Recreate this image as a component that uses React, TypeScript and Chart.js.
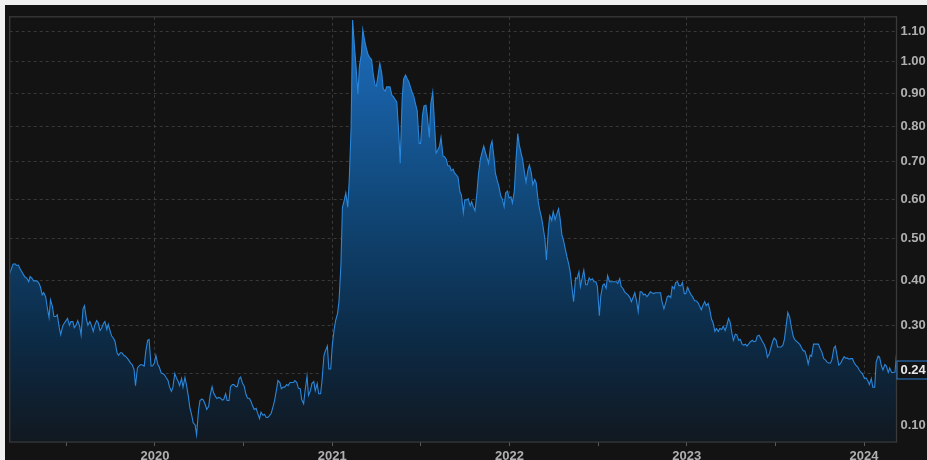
import React, { useEffect, useRef } from 'react';
import { Chart, LinearScale, registerables } from 'chart.js';

Chart.register(...registerables);

// ---------- data: twice-weekly closes (Friday, then Tuesday) ----------
const firstClose = '2019-03-08';
const prices2019 = [
  0.416, 0.429, 0.438, 0.439, 0.435, 0.436, 0.428, 0.420, 0.414, 0.407,
  0.406, 0.397, 0.409, 0.405, 0.399, 0.399, 0.399, 0.394, 0.386, 0.367,
  0.372, 0.363, 0.341, 0.317, 0.356, 0.341, 0.319, 0.319, 0.323, 0.295,
  0.280, 0.298, 0.304, 0.310, 0.315, 0.300, 0.308, 0.308, 0.295, 0.301,
  0.310, 0.298, 0.279, 0.336, 0.343, 0.313, 0.300, 0.308, 0.301, 0.287,
  0.300, 0.310, 0.306, 0.289, 0.293, 0.304, 0.308, 0.291, 0.302, 0.287,
  0.277, 0.272, 0.265, 0.242, 0.237, 0.242, 0.242, 0.237, 0.235, 0.231,
  0.227, 0.221, 0.218, 0.208, 0.176, 0.211, 0.215, 0.218, 0.217, 0.215,
  0.244, 0.268, 0.270, 0.215, 0.215, 0.221,
];
const prices2020 = [
  0.237, 0.218, 0.213, 0.201, 0.200, 0.197, 0.192, 0.186, 0.174, 0.165,
  0.172, 0.200, 0.192, 0.184, 0.176, 0.190, 0.173, 0.192, 0.178, 0.155,
  0.134, 0.119, 0.105, 0.101, 0.083, 0.128, 0.147, 0.150, 0.148, 0.139,
  0.130, 0.136, 0.157, 0.174, 0.162, 0.155, 0.151, 0.153, 0.152, 0.148,
  0.149, 0.160, 0.147, 0.147, 0.174, 0.178, 0.178, 0.174, 0.174, 0.190,
  0.193, 0.180, 0.176, 0.159, 0.152, 0.151, 0.146, 0.136, 0.130, 0.132,
  0.123, 0.113, 0.125, 0.119, 0.121, 0.115, 0.115, 0.119, 0.123, 0.136,
  0.147, 0.168, 0.186, 0.182, 0.170, 0.173, 0.173, 0.178, 0.176, 0.182,
  0.182, 0.182, 0.186, 0.182, 0.171, 0.170, 0.149, 0.141, 0.166, 0.195,
  0.157, 0.166, 0.180, 0.184, 0.166, 0.180, 0.160, 0.160, 0.186, 0.237,
  0.246, 0.256, 0.209, 0.209,
];
const prices2021 = [
  0.256, 0.291, 0.310, 0.326, 0.352, 0.438, 0.578, 0.598, 0.616, 0.579,
  0.648, 0.800, 1.139, 1.045, 0.985, 0.898, 0.985, 1.024, 1.106, 1.067,
  1.045, 1.022, 1.014, 1.007, 0.966, 0.926, 0.923, 0.963, 0.995, 0.963,
  0.914, 0.907, 0.920, 0.920, 0.920, 0.894, 0.890, 0.880, 0.874, 0.780,
  0.696, 0.883, 0.944, 0.957, 0.947, 0.935, 0.920, 0.901, 0.890, 0.865,
  0.847, 0.752, 0.752, 0.835, 0.862, 0.864, 0.829, 0.769, 0.868, 0.904,
  0.824, 0.725, 0.732, 0.744, 0.769, 0.716, 0.715, 0.707, 0.690, 0.689,
  0.676, 0.680, 0.669, 0.664, 0.658, 0.619, 0.611, 0.565, 0.598, 0.598,
  0.601, 0.583, 0.593, 0.578, 0.570, 0.616, 0.664, 0.707, 0.724, 0.744,
  0.729, 0.710, 0.696, 0.744, 0.758, 0.713, 0.669, 0.648, 0.635, 0.608,
  0.601, 0.580, 0.616, 0.621, 0.603,
];
const prices2022 = [
  0.606, 0.590, 0.621, 0.696, 0.780, 0.749, 0.724, 0.707, 0.669, 0.645,
  0.678, 0.691, 0.669, 0.638, 0.652, 0.643, 0.595, 0.573, 0.552, 0.530,
  0.498, 0.448, 0.522, 0.557, 0.545, 0.567, 0.547, 0.560, 0.575, 0.552,
  0.508, 0.496, 0.474, 0.457, 0.438, 0.420, 0.380, 0.352, 0.406, 0.404,
  0.420, 0.386, 0.408, 0.424, 0.390, 0.390, 0.406, 0.401, 0.404, 0.397,
  0.397, 0.386, 0.321, 0.365, 0.389, 0.392, 0.382, 0.411, 0.397, 0.397,
  0.397, 0.397, 0.397, 0.393, 0.404, 0.386, 0.381, 0.374, 0.370, 0.367,
  0.361, 0.352, 0.363, 0.372, 0.352, 0.330, 0.374, 0.374, 0.367, 0.369,
  0.363, 0.367, 0.374, 0.372, 0.370, 0.372, 0.372, 0.372, 0.372, 0.352,
  0.336, 0.347, 0.363, 0.365, 0.361, 0.386, 0.381, 0.395, 0.397, 0.388,
  0.388, 0.395, 0.370, 0.370,
];
const prices2023 = [
  0.384, 0.376, 0.367, 0.363, 0.354, 0.354, 0.350, 0.343, 0.334, 0.343,
  0.352, 0.343, 0.348, 0.336, 0.313, 0.306, 0.287, 0.293, 0.287, 0.293,
  0.291, 0.298, 0.289, 0.298, 0.315, 0.308, 0.283, 0.268, 0.281, 0.280,
  0.268, 0.270, 0.260, 0.258, 0.260, 0.256, 0.261, 0.265, 0.268, 0.265,
  0.266, 0.277, 0.279, 0.273, 0.265, 0.260, 0.250, 0.233, 0.240, 0.252,
  0.266, 0.273, 0.268, 0.254, 0.254, 0.254, 0.258, 0.270, 0.302, 0.328,
  0.317, 0.298, 0.277, 0.270, 0.266, 0.263, 0.259, 0.253, 0.246, 0.246,
  0.233, 0.219, 0.237, 0.235, 0.260, 0.260, 0.260, 0.260, 0.250, 0.244,
  0.230, 0.228, 0.223, 0.221, 0.221, 0.229, 0.252, 0.256, 0.233, 0.217,
  0.221, 0.227, 0.234, 0.231, 0.231, 0.229, 0.230, 0.230, 0.221, 0.217,
  0.213, 0.207, 0.202, 0.199,
];
const prices2024 = [
  0.190, 0.191, 0.185, 0.178, 0.190, 0.173, 0.173, 0.223, 0.235, 0.233,
  0.215, 0.207, 0.218, 0.215, 0.202, 0.211, 0.202, 0.202, 0.203, 0.240,
];

const prices = [...prices2019, ...prices2020, ...prices2021, ...prices2022, ...prices2023, ...prices2024];

const yTickValues = [0.1, 0.2, 0.3, 0.4, 0.5, 0.6, 0.7, 0.8, 0.9, 1.0, 1.1];
const hiddenYTick = 0.2; // its label sits under the last-price tag
const xTickValues = [2019.5, 2020, 2020.5, 2021, 2021.5, 2022, 2022.5, 2023, 2023.5, 2024];
const priceTagLevel = 0.207;

// ---------- styles ----------
const BG = '#131313';
const GRID = '#393939';
const FRAME = '#3a3a3a';
const LINE = '#2a86da';
const LABEL = '#b0b0b0';
const FONT_FAMILY = '"Liberation Sans", Arial, Helvetica, sans-serif';

// ---------- custom shifted-log scale ----------
const SHIFT = 1.1;
class ShiftedLogScale extends LinearScale {
  static id = 'shiftedLog';
  configure() {
    super.configure();
    const self = this as any;
    self._fMin = Math.log(this.min + SHIFT);
    self._fRange = Math.log(this.max + SHIFT) - self._fMin;
  }
  getPixelForValue(value: number) {
    if (value === null || value === undefined || isNaN(value as any)) return NaN;
    const self = this as any;
    return this.getPixelForDecimal((Math.log(value + SHIFT) - self._fMin) / self._fRange);
  }
  getValueForPixel(pixel: number) {
    const self = this as any;
    return Math.exp(self._fMin + this.getDecimalForPixel(pixel) * self._fRange) - SHIFT;
  }
}
Chart.register(ShiftedLogScale as any);

function yearFraction(t: number) {
  const d = new Date(t);
  const y = d.getUTCFullYear();
  const s = Date.UTC(y, 0, 1);
  const e = Date.UTC(y + 1, 0, 1);
  return y + (t - s) / (e - s);
}

export default function App() {
  const ref = useRef<HTMLCanvasElement>(null);

  useEffect(() => {
    document.body.style.margin = '0';
    document.body.style.background = '#f0f0f0';
    const canvas = ref.current;
    if (!canvas) return;

    const DAY = 86400000;
    const t0 = Date.parse(firstClose + 'T00:00:00Z');
    // Friday close, then the following Tuesday close, week after week
    const points = prices.map((p, k) => ({
      x: yearFraction(t0 + (Math.floor(k / 2) * 7 + (k % 2) * 4) * DAY),
      y: p,
    }));
    const xMin = points[0].x;
    const xMax = points[points.length - 1].x;

    const framePlugin = {
      id: 'frame',
      afterDatasetsDraw(chart: any) {
        const { ctx, chartArea: a } = chart;
        ctx.save();
        ctx.strokeStyle = FRAME;
        ctx.lineWidth = 1.3;
        ctx.strokeRect(a.left, a.top, a.right - a.left, a.bottom - a.top);
        ctx.restore();
      },
    };

    const tagPlugin = {
      id: 'priceTag',
      afterDraw(chart: any) {
        const { ctx, chartArea: a } = chart;
        const y = chart.scales.y.getPixelForValue(priceTagLevel);
        const text = prices[prices.length - 1].toFixed(2);
        ctx.save();
        ctx.fillStyle = '#111214';
        ctx.fillRect(a.right + 0.5, y - 9, 40, 18);
        ctx.strokeStyle = '#2b7fd0';
        ctx.lineWidth = 1;
        ctx.strokeRect(a.right + 0.5, y - 9, 40, 18);
        ctx.fillStyle = '#e8e8e8';
        ctx.font = `bold 13px ${FONT_FAMILY}`;
        ctx.textBaseline = 'middle';
        ctx.textAlign = 'left';
        ctx.fillText(text, a.right + 4, y + 0.5);
        ctx.restore();
      },
    };

    const chart = new Chart(canvas, {
      type: 'line',
      data: {
        datasets: [
          {
            data: points as any,
            borderColor: LINE,
            borderWidth: 1.1,
            pointRadius: 0,
            tension: 0,
            fill: 'start',
            backgroundColor: (c: any) => {
              const ch = c.chart;
              const a = ch.chartArea;
              if (!a) return 'rgba(20,80,140,0.6)';
              const g = ch.ctx.createLinearGradient(0, a.top, 0, a.bottom);
              g.addColorStop(0, '#1d6ec0');
              g.addColorStop(0.45, '#104676');
              g.addColorStop(0.75, '#0c2b47');
              g.addColorStop(1, '#111820');
              return g;
            },
          } as any,
        ],
      },
      options: {
        animation: false,
        responsive: false,
        maintainAspectRatio: false,
        layout: { padding: { left: 4.7, top: 7, right: 0, bottom: 0 } },
        plugins: { legend: { display: false }, tooltip: { enabled: false } },
        scales: {
          x: {
            type: 'linear',
            min: xMin,
            max: xMax,
            bounds: 'data',
            afterBuildTicks: (s: any) => {
              s.ticks = xTickValues.map((v) => ({ value: v }));
            },
            afterFit: (s: any) => {
              s.height = 18;
            },
            grid: {
              color: (c: any) => (c.tick && Number.isInteger(c.tick.value) ? GRID : 'rgba(0,0,0,0)'),
              tickColor: '#5a5a5a',
              tickLength: 4,
              lineWidth: 1,
            },
            border: { display: false, dash: [3, 3] },
            ticks: {
              autoSkip: false,
              maxRotation: 0,
              padding: 3,
              color: LABEL,
              font: { family: FONT_FAMILY, size: 13, weight: 'bold' },
              callback: (v: any) => (Number.isInteger(v) ? String(v) : ''),
            },
          } as any,
          y: {
            type: 'shiftedLog',
            position: 'right',
            min: 0.07,
            max: 1.15,
            bounds: 'data',
            afterBuildTicks: (s: any) => {
              s.ticks = yTickValues.map((v) => ({ value: v }));
            },
            afterFit: (s: any) => {
              s.width = 30.5;
            },
            grid: { color: GRID, drawTicks: false, lineWidth: 1 },
            border: { display: false, dash: [3, 3] },
            ticks: {
              autoSkip: false,
              padding: 4,
              color: LABEL,
              font: { family: FONT_FAMILY, size: 13, weight: 'bold' },
              callback: (v: any) => (Math.abs(v - hiddenYTick) < 1e-6 ? '' : Number(v).toFixed(2)),
            },
          } as any,
        },
      },
      plugins: [framePlugin, tagPlugin],
    });

    return () => chart.destroy();
  }, []);

  return (
    <div
      style={{
        position: 'fixed',
        left: 0,
        top: 0,
        width: 927,
        height: 460,
        background: '#f0f0f0',
        overflow: 'hidden',
      }}
    >
      <div style={{ position: 'absolute', left: 5, top: 5, width: 922, height: 455, background: BG }}>
        <canvas ref={ref} width={922} height={455} style={{ display: 'block', width: 922, height: 455 }} />
      </div>
    </div>
  );
}
